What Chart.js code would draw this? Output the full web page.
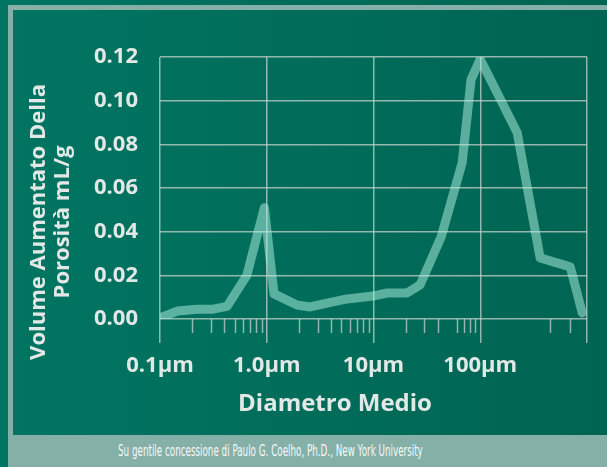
<!DOCTYPE html>
<html>
<head>
<meta charset="utf-8">
<script src="https://cdn.jsdelivr.net/npm/chart.js@4/dist/chart.umd.min.js"></script>
<style>
  html, body { margin: 0; padding: 0; }
  body { width: 607px; height: 467px; position: relative; overflow: hidden;
         background: linear-gradient(to right, #017562, #006452); }
  #frame { position: absolute; left: 8px; top: 5px; right: 0; bottom: 0; background: #84b0a8; }
  #inner { position: absolute; left: 13px; top: 10px; right: 0; height: 425px;
           background: linear-gradient(to right, #017562, #006452); }
  #chart-box { position: absolute; left: 0; top: 0; width: 607px; height: 435px; }
  #caption { position: absolute; left: 118px; top: 442px; color: #f6f9f8;
             font-family: "DejaVu Sans Condensed", "Liberation Sans Narrow", sans-serif;
             font-size: 15px; white-space: nowrap;
             transform: scaleX(0.65); transform-origin: left top; }
</style>
</head>
<body>
<div id="frame"></div>
<div id="inner"></div>
<div id="chart-box"><canvas id="poreChart"></canvas></div>
<div id="caption">Su gentile concessione di Paulo G. Coelho, Ph.D., New York University</div>
<script>
// diameter (µm) and incremental pore volume (mL/g)
const diameters = [0.1, 0.147, 0.222, 0.314, 0.425, 0.65, 0.95, 1.17, 1.92, 2.55, 3.67, 5.66,
                   9.9, 13.4, 20.6, 27.3, 43, 67.7, 82, 100, 222, 364, 697, 902];
const volumes = [0.0005, 0.0037, 0.0045, 0.0045, 0.0058, 0.020, 0.051, 0.0115, 0.0064, 0.0055, 0.0073, 0.0092,
                 0.0105, 0.0119, 0.0119, 0.0156, 0.0376, 0.0716, 0.1096, 0.119, 0.0853, 0.028, 0.0239, 0.0028];

const xMajorTicks = [0.1, 1, 10, 100, 1000];
const xTickLabels = ['0.1µm', '1.0µm', '10µm', '100µm', ''];
const xMinorTicks = [0.2, 0.3, 0.4, 0.5, 0.6, 0.7, 0.8, 0.9,
                     2, 3, 4, 5, 6, 7, 8, 9,
                     20, 30, 40, 60, 70, 80, 90,
                     450, 700];
const yTitleLines = ['Volume Aumentato Della', 'Porosità mL/g'];
const xTitle = 'Diametro Medio';

const textColor = '#e1e8e6';
const gridColor = 'rgba(210, 215, 210, 0.7)';

// small tick marks under the x axis between decades
const minorTickPlugin = {
    id: 'minorTicks',
    afterDraw(chart) {
        const ctx = chart.ctx;
        const x = chart.scales.x;
        const bottom = chart.chartArea.bottom;
        ctx.save();
        ctx.strokeStyle = gridColor;
        ctx.lineWidth = 1.5;
        xMinorTicks.forEach(v => {
            const px = Math.round(x.getPixelForValue(v)) + 0.5;
            ctx.beginPath();
            ctx.moveTo(px, bottom);
            ctx.lineTo(px, bottom + 14);
            ctx.stroke();
        });
        ctx.restore();
    }
};

// axis titles sit off the chart-area centre in the original, so they are drawn here
const titlePlugin = {
    id: 'axisTitles',
    afterDraw(chart) {
        const ctx = chart.ctx;
        ctx.save();
        ctx.fillStyle = textColor;
        ctx.textAlign = 'center';
        ctx.textBaseline = 'middle';
        ctx.font = 'bold 22px "Open Sans"';
        const cols = [39, 63];
        yTitleLines.forEach((line, i) => {
            ctx.save();
            ctx.translate(cols[i], 222);
            ctx.rotate(-Math.PI / 2);
            ctx.fillText(line, 0, 0);
            ctx.restore();
        });
        ctx.font = 'bold 24px "Open Sans"';
        ctx.fillText(xTitle, 335, 404);
        ctx.restore();
    }
};

const ctx = document.getElementById('poreChart').getContext('2d');
new Chart(ctx, {
    type: 'line',
    data: {
        datasets: [{
            data: diameters.map((d, i) => ({ x: d, y: volumes[i] })),
            borderColor: 'rgba(175, 240, 222, 0.52)',
            borderWidth: 9,
            borderJoinStyle: 'round',
            borderCapStyle: 'round',
            pointRadius: 0,
            tension: 0,
            fill: false
        }]
    },
    options: {
        responsive: true,
        maintainAspectRatio: false,
        animation: false,
        layout: { padding: { left: 0, right: 20, top: 57, bottom: 0 } },
        plugins: { legend: { display: false }, tooltip: { enabled: false } },
        scales: {
            x: {
                type: 'logarithmic',
                min: 0.1,
                max: 1000,
                afterBuildTicks: scale => { scale.ticks = xMajorTicks.map(v => ({ value: v })); },
                afterFit: scale => { scale.height = 116; },
                grid: { color: gridColor, lineWidth: 1.5, tickLength: 24 },
                border: { display: false },
                ticks: {
                    autoSkip: false,
                    maxRotation: 0,
                    padding: 10,
                    color: textColor,
                    font: { family: 'Open Sans', weight: 'bold', size: 22 },
                    callback: (value, index) => xTickLabels[index]
                }
            },
            y: {
                min: 0,
                max: 0.12,
                afterFit: scale => { scale.width = 160; },
                grid: { color: gridColor, lineWidth: 1.5, drawTicks: false },
                border: { display: false },
                ticks: {
                    stepSize: 0.02,
                    padding: 22,
                    color: textColor,
                    font: { family: 'Open Sans', weight: 'bold', size: 22 },
                    callback: value => value.toFixed(2)
                }
            }
        }
    },
    plugins: [minorTickPlugin, titlePlugin]
});
</script>
</body>
</html>
